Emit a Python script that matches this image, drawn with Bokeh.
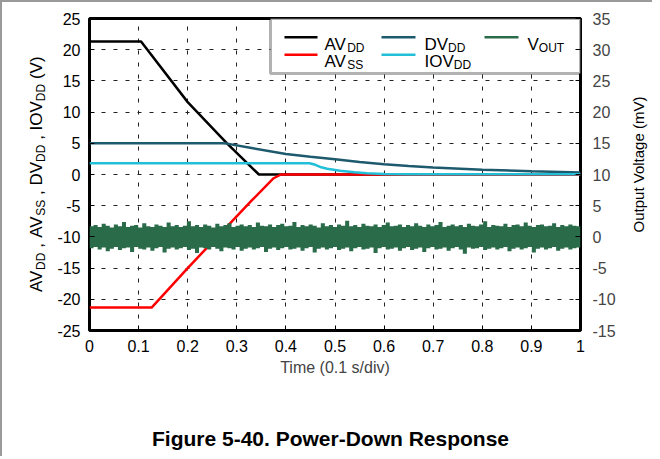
from math import pi
from bokeh.plotting import figure
from bokeh.layouts import row, column
from bokeh.models import Range1d, LinearAxis, FixedTicker, BoxAnnotation, Label
from bokeh.core.properties import value
from bokeh.embed import file_html
from bokeh.resources import INLINE

# ---------------- data ----------------
t_avdd = [0.0, 0.105, 0.2, 0.28, 0.345, 1.0]
v_avdd = [21.3, 21.3, 11.6, 5.0, 0.0, 0.0]

t_avss = [0.0, 0.127, 0.2, 0.33, 0.375, 0.39, 1.0]
v_avss = [-21.3, -21.3, -15.0, -4.2, -0.6, 0.0, 0.0]

t_dvdd = [0.0, 0.27, 0.28, 0.33, 0.4, 0.45, 0.5, 0.55, 0.6, 0.65, 0.7, 0.8, 0.9, 1.0]
v_dvdd = [5.0, 5.0, 4.95, 4.25, 3.28, 2.85, 2.45, 2.0, 1.65, 1.35, 1.12, 0.78, 0.52, 0.32]

t_iovdd = [0.0, 0.448, 0.46, 0.472, 0.484, 0.51, 0.54, 0.565, 0.6, 0.65, 0.8, 1.0]
v_iovdd = [1.8, 1.8, 1.55, 1.15, 0.91, 0.6, 0.35, 0.2, 0.1, 0.05, 0.03, 0.03]

# VOUT noise band envelope (mV), 121 samples over the time axis
vout_upper = [
    1.7, 1.9, 1.6, 2.1, 1.8, 1.5, 2.0, 1.7, 2.4, 1.6,
    1.8, 1.9, 1.5, 2.2, 1.7, 1.6, 2.0, 1.8, 1.6, 2.3,
    1.7, 1.9, 1.6, 1.8, 2.5, 1.7, 1.9, 1.6, 2.0, 1.8,
    1.5, 2.1, 1.7, 1.9, 2.2, 1.6, 1.8, 2.0, 1.7, 1.9,
    1.6, 2.3, 1.8, 1.7, 2.0, 1.6, 1.9, 2.1, 1.7, 1.8,
    2.4, 1.6, 1.9, 1.7, 2.0, 1.8, 1.5, 2.2, 1.7, 1.9,
    1.6, 2.0, 1.8, 2.6, 1.7, 1.9, 1.6, 2.1, 1.8, 1.7,
    2.0, 1.6, 1.9, 2.3, 1.7, 1.8, 2.0, 1.6, 1.9, 1.7,
    2.2, 1.8, 1.6, 2.0, 1.7, 1.9, 2.4, 1.6, 1.8, 2.0,
    1.7, 1.9, 1.6, 2.1, 1.8, 1.7, 2.0, 2.5, 1.6, 1.9,
    1.8, 1.7, 2.1, 1.6, 1.9, 2.0, 1.7, 2.3, 1.8, 1.6,
    1.9, 2.0, 1.7, 1.8, 2.2, 1.6, 1.9, 1.7, 2.0, 1.8,
    1.7,
]
vout_lower = [
    -1.8, -1.6, -2.0, -1.7, -2.3, -1.9, -1.6, -2.1, -1.8, -1.7,
    -2.4, -1.6, -1.9, -2.0, -1.7, -2.2, -1.8, -1.6, -2.5, -1.9,
    -1.7, -2.0, -1.8, -1.6, -2.1, -1.9, -2.6, -1.7, -1.8, -2.0,
    -1.6, -1.9, -2.3, -1.7, -1.8, -2.0, -1.6, -2.2, -1.9, -1.7,
    -2.0, -1.8, -1.6, -2.4, -1.9, -1.7, -2.1, -1.8, -1.6, -2.0,
    -1.9, -1.7, -2.2, -1.8, -1.6, -2.5, -1.9, -1.7, -2.0, -1.8,
    -1.6, -2.1, -1.9, -1.7, -2.3, -1.8, -1.6, -2.0, -1.9, -1.7,
    -2.6, -1.8, -1.6, -2.0, -1.9, -1.7, -2.2, -1.8, -1.6, -2.1,
    -1.9, -1.7, -2.4, -1.8, -1.6, -2.0, -1.9, -1.7, -2.2, -1.8,
    -1.6, -2.0, -2.7, -1.7, -1.9, -1.8, -1.6, -2.1, -1.9, -1.7,
    -2.0, -1.8, -1.6, -2.3, -1.9, -1.7, -2.0, -1.8, -1.6, -2.5,
    -1.9, -1.7, -2.0, -1.8, -1.6, -2.2, -1.9, -1.7, -2.0, -1.8,
    -1.7,
]

x_ticks = [0, 0.1, 0.2, 0.3, 0.4, 0.5, 0.6, 0.7, 0.8, 0.9, 1]
x_tick_labels = ["0", "0.1", "0.2", "0.3", "0.4", "0.5", "0.6", "0.7", "0.8", "0.9", "1"]
y_ticks = [-25, -20, -15, -10, -5, 0, 5, 10, 15, 20, 25]
y_tick_labels = ["-25", "-20", "-15", "-10", "-5", "0", "5", "10", "15", "20", "25"]
y2_ticks = [-15, -10, -5, 0, 5, 10, 15, 20, 25, 30, 35]
y2_tick_labels = ["-15", "-10", "-5", "0", "5", "10", "15", "20", "25", "30", "35"]

title_text = "Figure 5-40. Power-Down Response"
x_label = "Time (0.1 s/div)"
y2_label = "Output Voltage (mV)"

C_AVDD = "#000000"
C_AVSS = "#ff0000"
C_DVDD = "#1d5a6e"
C_IOVDD = "#22c0d8"
C_VOUT = "#2a6b4a"

FONT = "Liberation Sans"

# ---------------- layout geometry (page pixels) ----------------
EDGE = 2                   # grey page edge (top/left)
FW, FH = 491, 312          # plot frame size
LAB_W = 48                 # left label strip width
MAIN_L, MAIN_R = 39, 44    # main figure borders left / right of frame
TOP, BOT = 16, 60          # borders above / below frame
RIGHT_W = 28
CAP_H = 66
FRAME_X0 = EDGE + LAB_W + MAIN_L   # page x of frame left (89)
FRAME_Y0 = EDGE + TOP              # page y of frame top (18)
FRAME_Y1 = FRAME_Y0 + FH           # page y of frame bottom (330)
ROW_H = TOP + FH + BOT
TOTAL_W = LAB_W + MAIN_L + FW + MAIN_R + RIGHT_W
STRIP_R0 = EDGE + TOTAL_W - RIGHT_W  # page x of the right strip


def strip_fig(w):
    """A blank strip whose frame lines up with the plot frame; data y = px above frame bottom."""
    f = figure(frame_width=w, frame_height=FH, x_range=Range1d(0, w), y_range=Range1d(0, FH),
               output_backend="svg", toolbar_location=None,
               min_border_left=0, min_border_right=0, min_border_top=TOP,
               min_border_bottom=BOT, x_axis_location=None, y_axis_location=None,
               background_fill_color="white", border_fill_color="white")
    f.outline_line_color = None
    f.grid.visible = False
    return f


# ---------------- main plot ----------------
p = figure(frame_width=FW, frame_height=FH, output_backend="svg", toolbar_location=None,
           x_range=Range1d(0, 1), y_range=Range1d(-25, 25),
           min_border_left=MAIN_L, min_border_right=MAIN_R, min_border_top=TOP,
           min_border_bottom=BOT, background_fill_color="white", border_fill_color="white")
p.extra_y_ranges = {"mv": Range1d(-15, 35)}
p.outline_line_color = "black"
p.outline_line_width = 3

for ax in (p.xaxis[0], p.yaxis[0]):
    ax.major_label_text_font = FONT
    ax.major_label_text_font_size = "16px"
    ax.major_label_text_color = "black"
    ax.major_tick_in = 5
    ax.major_tick_out = 0
    ax.minor_tick_in = 0
    ax.minor_tick_out = 0
    ax.axis_line_color = None
    ax.major_tick_line_color = "black"

p.xaxis.ticker = FixedTicker(ticks=x_ticks)
p.xaxis.major_label_overrides = dict(zip(x_ticks, x_tick_labels))
p.xaxis.axis_label = x_label
p.xaxis.axis_label_text_font = FONT
p.xaxis.axis_label_text_font_size = "16px"
p.xaxis.axis_label_text_font_style = "normal"
p.xaxis.axis_label_standoff = 4
p.xaxis.major_label_standoff = 9

p.yaxis.ticker = FixedTicker(ticks=y_ticks)
p.yaxis.major_label_overrides = dict(zip(y_ticks, y_tick_labels))
p.yaxis.major_label_standoff = 9

ax2 = LinearAxis(y_range_name="mv", ticker=FixedTicker(ticks=y2_ticks))
ax2.major_label_overrides = dict(zip(y2_ticks, y2_tick_labels))
ax2.major_label_text_font = FONT
ax2.major_label_text_font_size = "16px"
ax2.major_tick_in = 5
ax2.major_tick_out = 0
ax2.minor_tick_in = 0
ax2.minor_tick_out = 0
ax2.axis_line_color = None
ax2.major_label_standoff = 12
p.add_layout(ax2, "right")

for g in (p.xgrid[0], p.ygrid[0]):
    g.grid_line_color = "#222222"
    g.grid_line_width = 1
    g.grid_line_dash = "4 8"
p.xgrid.ticker = FixedTicker(ticks=x_ticks)
p.ygrid.ticker = FixedTicker(ticks=y_ticks)

LW = 2.5
p.line(t_avdd, v_avdd, line_color=C_AVDD, line_width=LW)
p.line(t_avss, v_avss, line_color=C_AVSS, line_width=LW)
p.line(t_dvdd, v_dvdd, line_color=C_DVDD, line_width=LW)
p.line(t_iovdd, v_iovdd, line_color=C_IOVDD, line_width=LW)

# noise band drawn as steps (each sample held over its interval)
n = len(vout_upper)
xs, up, lo = [], [], []
for i in range(n):
    a, b = i / n, (i + 1) / n
    xs += [a, b]
    up += [vout_upper[i]] * 2
    lo += [vout_lower[i]] * 2
p.varea(x=xs, y1=lo, y2=up, fill_color=C_VOUT, fill_alpha=1.0, y_range_name="mv")

# ---------------- text helpers ----------------
ADV = {"A": .667, "V": .667, "D": .722, "S": .667, "I": .278, "O": .778, "U": .722,
       "T": .611, " ": .278, ",": .278, "(": .333, ")": .333}


def text_w(s, size):
    return sum(ADV.get(c, .556) for c in s) * size


MAIN, SUB = 17, 12
SUB_DROP = 3
MID = 0.34   # em distance from alphabetic baseline to the text box middle


def px2x(px):
    return (px - FRAME_X0) / FW


def py2y(py):
    return 25 - (py - FRAME_Y0) * 50 / FH


# ---------------- legend (manual, for subscripts) ----------------
p.add_layout(BoxAnnotation(left=px2x(270), right=1.0, top=25, bottom=py2y(73),
                           fill_color="white", fill_alpha=1.0, level="underlay",
                           line_color="black", line_width=3))

legend_items = [
    ("AV", "DD", C_AVDD, 0, 0),
    ("DV", "DD", C_DVDD, 1, 0),
    ("V", "OUT", C_VOUT, 2, 0),
    ("AV", "SS", C_AVSS, 0, 1),
    ("IOV", "DD", C_IOVDD, 1, 1),
]
col_line = [(284, 317), (381, 415), (484, 518)]
col_text = [324, 424, 527]
row_line_y = [36.7, 54.3]
row_base_y = [44.0, 61.0]
for main, sub, color, ci, ri in legend_items:
    x0, x1 = col_line[ci]
    p.line([px2x(x0), px2x(x1)], [py2y(row_line_y[ri])] * 2, line_color=color, line_width=LW)
    sx = col_text[ci] - FRAME_X0
    sy = FRAME_Y1 - row_base_y[ri]
    p.add_layout(Label(x=sx, y=sy, x_units="screen", y_units="screen", text=main,
                       text_font=FONT, text_font_size=f"{MAIN}px", text_baseline="alphabetic",
                       text_align="left", text_color="black"))
    p.add_layout(Label(x=sx + text_w(main, MAIN), y=sy - SUB_DROP, x_units="screen",
                       y_units="screen", text=sub, text_font=FONT,
                       text_font_size=f"{SUB}px", text_baseline="alphabetic",
                       text_align="left", text_color="black"))

# ---------------- left axis label strip (rotated, pieces centred) ----------------
lab = strip_fig(LAB_W)
pieces = [("AV", 0), ("DD", 1), (" , ", 0), ("AV", 0), ("SS", 1), (" , ", 0),
          ("DV", 0), ("DD", 1), (" , ", 0), ("IOV", 0), ("DD", 1), (" (V)", 0)]
total = sum(text_w(s, SUB if k else MAIN) for s, k in pieces)
cur = FH / 2 - total / 2
BASE_X = 42 - EDGE
lx, ly, lt, lsz = [], [], [], []
for s, k in pieces:
    size = SUB if k else MAIN
    vis = s.strip()
    lead = len(s) - len(s.lstrip())
    base = BASE_X + (SUB_DROP if k else 0)
    lx.append(base - MID * size)
    ly.append(cur + text_w(s[:lead], size) + text_w(vis, size) / 2)
    lt.append(vis)
    lsz.append(f"{size}px")
    cur += text_w(s, size)
lab.text(x=lx, y=ly, text=lt, angle=pi / 2, text_font=value(FONT), text_font_size=lsz,
         text_baseline="middle", text_align="center", text_color="black")

# ---------------- right axis label strip ----------------
rgt = strip_fig(RIGHT_W)
rgt.text(x=[638 - STRIP_R0], y=[FRAME_Y1 - 164], text=[y2_label], angle=pi / 2,
         text_font=value(FONT), text_font_size="15px", text_baseline="middle",
         text_align="center", text_color="black")

# ---------------- caption ----------------
cap = figure(width=TOTAL_W, height=CAP_H, x_range=Range1d(0, TOTAL_W), y_range=Range1d(0, CAP_H),
             output_backend="svg", toolbar_location=None, min_border=0,
             x_axis_location=None, y_axis_location=None,
             background_fill_color="white", border_fill_color="white")
cap.outline_line_color = None
cap.grid.visible = False
cap.text(x=[330 - EDGE], y=[EDGE + ROW_H + CAP_H - 438], text=[title_text],
         text_font=value(FONT), text_font_size="21px", text_font_style="bold",
         text_baseline="middle", text_align="center", text_color="black")

layout = column(row(lab, p, rgt), cap,
                styles={"border-top": f"{EDGE}px solid #9a9a9a",
                        "border-left": f"{EDGE}px solid #9a9a9a"})
open("out.html", "w").write(file_html(layout, INLINE))
